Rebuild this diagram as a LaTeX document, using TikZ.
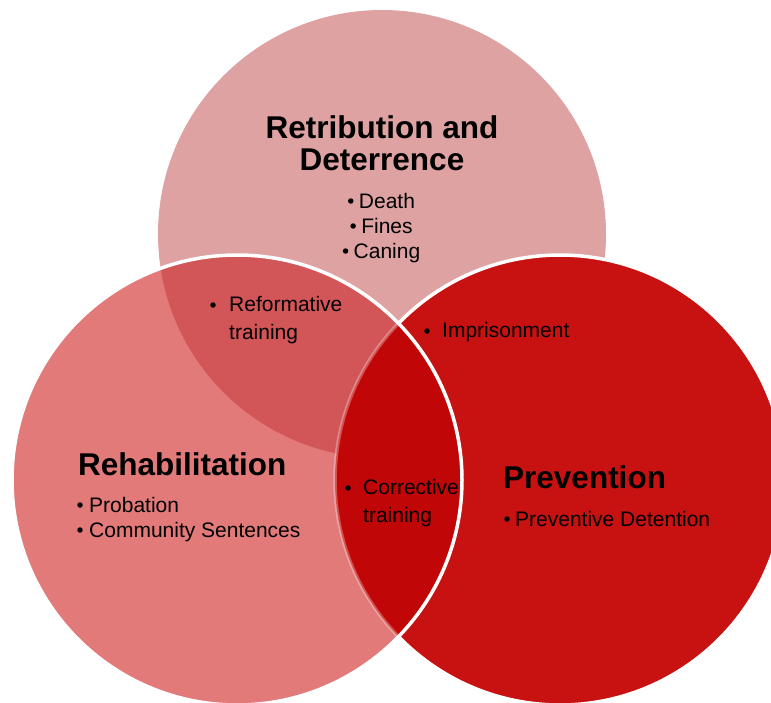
\documentclass[tikz,border=0pt]{standalone}
\usepackage{fontspec}
\setmainfont{Liberation Sans}
\definecolor{topc}{RGB}{223,162,162}
\definecolor{leftc}{RGB}{227,122,122}
\definecolor{ltc}{RGB}{210,86,88}
\definecolor{rightc}{RGB}{200,18,18}
\definecolor{lrc}{RGB}{192,6,6}
\tikzset{
  ttl/.style={font=\fontsize{31.5}{32}\selectfont\bfseries, inner sep=0pt, align=center},
  bodytxt/.style={font=\fontsize{21}{26}\selectfont, inner sep=0pt, align=left, anchor=base west},
  dotb/.style={circle, fill=black, inner sep=0pt, minimum size=5.5pt},
  rim/.style={draw=white, line width=3.5pt}
}
\begin{document}
\begin{tikzpicture}[x=1pt,y=-1pt]
\useasboundingbox (0,0) rectangle (771,702);
\clip (0,0) rectangle (771,702);
\coordinate (ct) at (382,234);
\coordinate (cl) at (237,480);
\coordinate (cr) at (560,480);
% top circle
\fill[topc] (ct) circle[radius=224];
% right circle
\fill[rightc] (cr) circle[radius=225];
\draw[rim] (cr) circle[radius=225];
% left circle
\fill[leftc] (cl) circle[radius=225];
\begin{scope}
  \clip (cl) circle[radius=225];
  \fill[ltc] (ct) circle[radius=224];
  \fill[lrc] (cr) circle[radius=225];
  \draw[white, opacity=0.3, line width=3.5pt] (cr) circle[radius=225];
\end{scope}
\draw[rim] (cl) circle[radius=225];
% texts top
\node[ttl, anchor=base] (t1) at (382,138) {Retribution and};
\node[ttl, anchor=base] (t2) at (382,170) {Deterrence};
\node[bodytxt, anchor=base] (d1) at (387,208) {Death};
\node[bodytxt, anchor=base] (d2) at (387,233) {Fines};
\node[bodytxt, anchor=base] (d3) at (387,258) {Caning};
\node[dotb] at ([xshift=-8pt,yshift=7pt]d1.base west) {};
\node[dotb] at ([xshift=-8pt,yshift=7pt]d2.base west) {};
\node[dotb] at ([xshift=-8pt,yshift=7pt]d3.base west) {};
% reformative
\node[bodytxt] (rf) at (229,311) {Reformative};
\node[bodytxt] (rf2) at (229,339) {training};
\node[dotb] at (213,305) {};
% imprisonment
\node[bodytxt] (im) at (442,337) {Imprisonment};
\node[dotb] at (427,331) {};
% rehabilitation
\node[ttl, anchor=base west] (rh) at (78,475) {Rehabilitation};
\node[bodytxt] (p1) at (89,512) {Probation};
\node[bodytxt] (p2) at (89,537) {Community Sentences};
\node[dotb] at (80,505) {};
\node[dotb] at (80,530) {};
% corrective
\node[bodytxt] (co) at (363,494) {Corrective};
\node[bodytxt] (co2) at (363,522) {training};
\node[dotb] at (348,488) {};
% prevention
\node[ttl, anchor=base west] (pv) at (503,488) {Prevention};
\node[bodytxt] (pd) at (515,526) {Preventive Detention};
\node[dotb] at (507,519) {};
\end{tikzpicture}
\end{document}
